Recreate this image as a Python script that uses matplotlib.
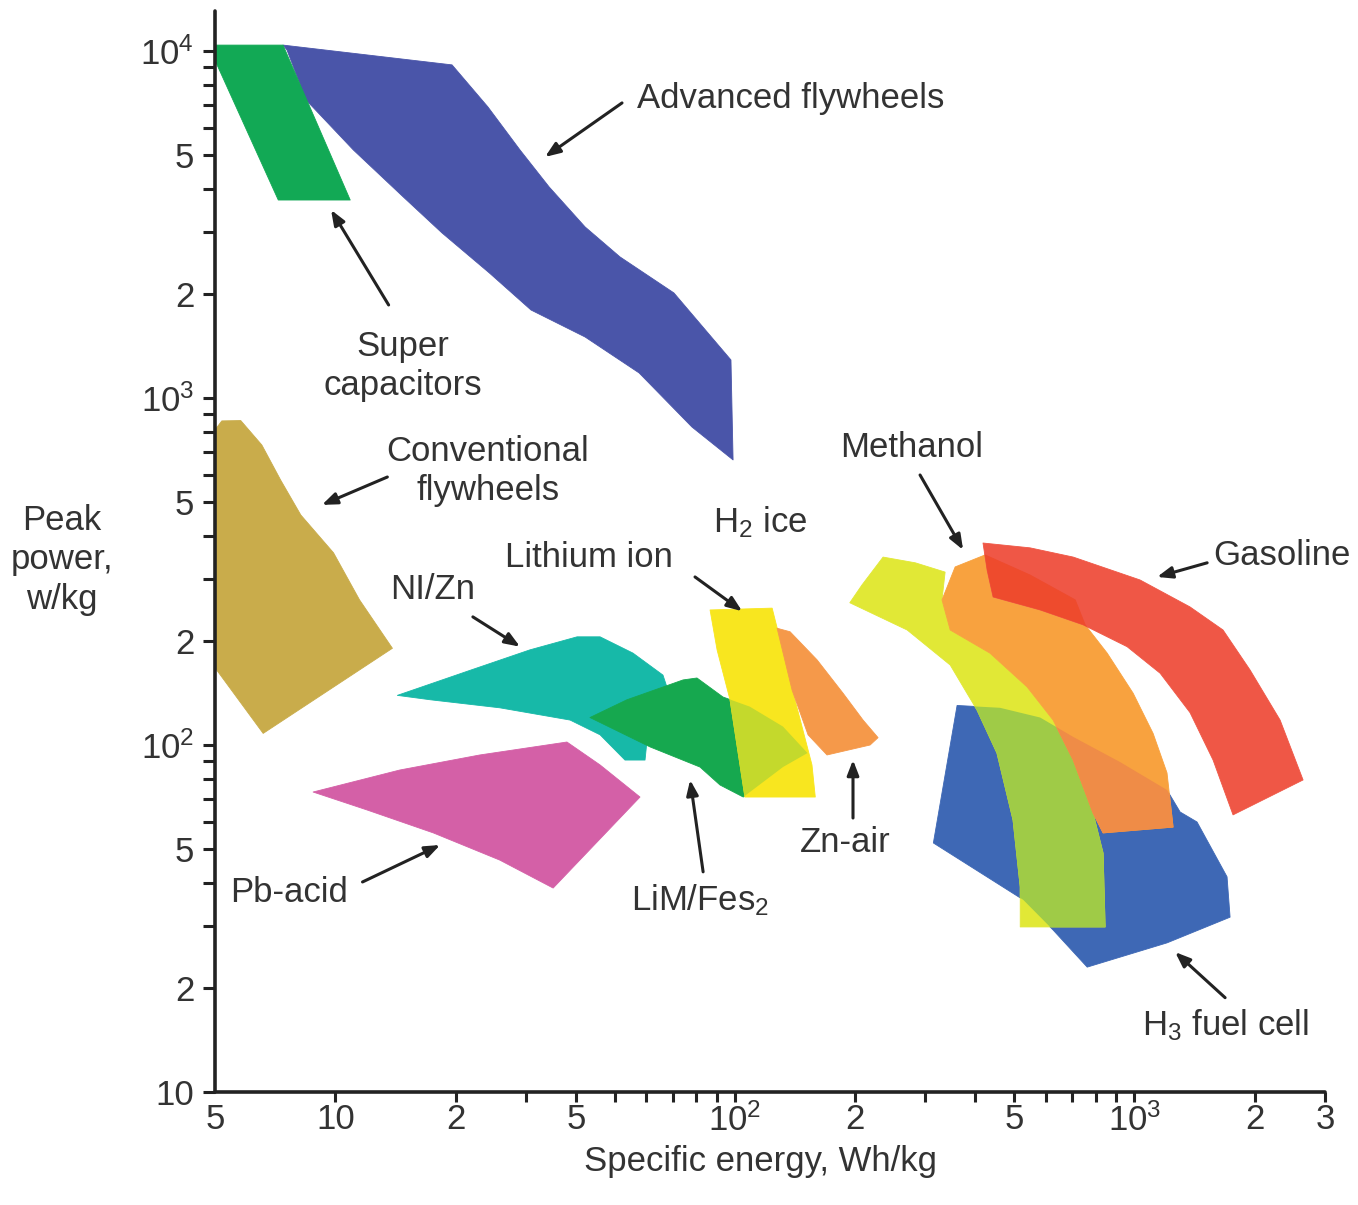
import numpy as np
import matplotlib
matplotlib.use("Agg")
import matplotlib.pyplot as plt
from matplotlib.patches import Polygon
from matplotlib.ticker import FixedLocator, FixedFormatter

plt.rcParams['font.family'] = ['Liberation Sans', 'DejaVu Sans']
plt.rcParams['mathtext.fontset'] = 'custom'
plt.rcParams['mathtext.rm'] = 'Liberation Sans'
plt.rcParams['mathtext.it'] = 'Liberation Sans'
plt.rcParams['mathtext.default'] = 'regular'

# ---------------- data (specific energy Wh/kg, peak power W/kg) ----------------
supercap_e = [5.0, 7.4, 10.9, 7.2, 5.0]
supercap_p = [10400, 10400, 3720, 3720, 9400]

advfly_e = [7.4, 19.6, 24.1, 29.0, 34.3, 42.2, 51.6, 70.4, 97.8, 99.0, 78.1, 57.6, 42.2,
            30.9, 24.3, 18.5, 14.8, 11.1, 8.45, 7.57]
advfly_p = [10400, 9120, 6900, 5185, 4057, 3111, 2550, 2008, 1287, 663, 825, 1181, 1499,
            1793, 2293, 2990, 3796, 5185, 7225, 10070]

convfly_e = [5.0, 5.2, 5.8, 6.55, 7.3, 8.2, 9.9, 11.5, 13.9, 6.6, 5.0]
convfly_p = [809, 859, 861, 732, 580, 460, 358, 262, 190, 108, 167]

nizn_e = [14.3, 21.7, 30.7, 40.3, 46.0, 55.6, 66.1, 68.0, 61.4, 59.6, 53.1, 46.0, 38.7, 25.8, 17.3]
nizn_p = [139, 164, 188, 205, 205, 184, 159, 144, 126, 90.5, 90.5, 107, 118, 128, 135]

pb_e = [8.8, 14.5, 23.0, 38.0, 46.0, 57.9, 35.1, 25.8, 17.6, 12.0]
pb_p = [73.2, 84.7, 93.6, 102, 87.6, 70.8, 38.7, 46.6, 55.8, 65.0]

limfes_e = [43.4, 53.7, 74.2, 80.4, 93.4, 109, 132, 152, 132, 105, 91.8, 81.8, 61.4]
limfes_p = [120, 135, 154, 156, 137.5, 129, 113, 94.8, 86.4, 70.8, 76.7, 86.4, 98.7]

liion_e = [86.7, 124, 128, 141.5, 156, 159, 106, 97.3, 90.3]
liion_p = [245, 248, 214.5, 134.8, 87.6, 70.8, 70.8, 134.8, 187.8]

znair_e = [127.6, 137.5, 160.6, 186.6, 209.4, 228.3, 218.1, 170.1, 152.5, 139.1]
znair_p = [217, 212, 176, 141, 118, 105, 100, 93.6, 107, 144]

h3fc_e = [360, 461, 581, 703, 921, 1207, 1302, 1435, 1706, 1736, 1207, 762, 626, 527, 314]
h3fc_p = [130, 128, 120, 105.5, 89.3, 74.2, 64.1, 60.0, 41.7, 31.9, 26.9, 22.9, 29.3, 35.8, 52.2]

h2ice_e = [194, 208, 235, 283, 336, 330, 346, 435, 539, 626, 703, 788, 835, 845, 518, 518,
           497, 453, 404, 381, 346, 270]
h2ice_p = [257, 289, 348, 335, 315, 262, 214.5, 184, 147, 118, 90.5, 63.7, 48.8, 29.9, 29.9,
           39, 60.8, 94.8, 126, 141, 170, 214.5]

methanol_e = [356, 423, 548, 711, 753, 855, 993, 1114, 1207, 1250, 835, 788, 703, 626, 539,
              435, 346, 330]
methanol_p = [326, 353, 309, 262, 222, 184, 141, 108, 83.1, 58.0, 55.8, 63.7, 90.5, 118, 147,
              184, 214.5, 262]

gasoline_e = [418, 548, 703, 1033, 1378, 1667, 1948, 2316, 2644, 1766, 1574, 1378, 1160, 959,
              744, 581, 443, 428]
gasoline_p = [382, 370, 348, 299, 250, 214.5, 164.5, 118, 79.3, 62.9, 90.5, 124, 161, 192,
              222, 245, 267, 319]

xtick_vals = [5, 10, 20, 40, 100, 200, 500, 1000, 2000, 3000]
xtick_text = ['5', '10', '2', '5', '$10^2$', '2', '5', '$10^3$', '2', '3']
xtick_minor = [30, 50, 60, 70, 80, 90, 300, 400, 600, 700, 800, 900]
ytick_vals = [10, 20, 50, 100, 200, 500, 1000, 2000, 5000, 10000]
ytick_text = ['10', '2', '5', '$10^2$', '2', '5', '$10^3$', '2', '5', '$10^4$']
ytick_minor = [30, 40, 60, 70, 80, 90, 300, 400, 600, 700, 800, 900,
               3000, 4000, 6000, 7000, 8000, 9000]

# (text, text_xy, arrow_tail, arrow_tip, ha)
labels = [
    ("Advanced flywheels", (56.9, 7320), (52.2, 7085), (33.5, 4951), 'left'),
    ("Super\ncapacitors", (14.8, 1237), (13.6, 1854), (9.76, 3483), 'center'),
    ("Conventional\nflywheels", (24.1, 616), (13.5, 592), (9.26, 492), 'center'),
    ("NI/Zn", (17.5, 280), (22.1, 234), (29.0, 192), 'center'),
    ("Lithium ion", (43.2, 346), (79.5, 305), (104.3, 243), 'center'),
    ("H$_2$ ice", (115.7, 439), None, None, 'center'),
    ("Methanol", (277.7, 718), (290.8, 600), (372.7, 365), 'center'),
    ("Gasoline", (1574, 351), (1521, 335), (1140, 305), 'left'),
    ("Pb-acid", (7.66, 37.7), (11.7, 40.3), (18.3, 51.5), 'center'),
    ("LiM/Fes$_2$", (81.8, 35.8), (83.3, 43.1), (77.3, 79.3), 'center'),
    ("Zn-air", (188.7, 52.2), (197.6, 61.6), (197.6, 90.5), 'center'),
    ("H$_3$ fuel cell", (1687, 15.6), (1687, 18.7), (1265, 25.3), 'center'),
]

# ---------------- figure ----------------
W, H = 1358, 1205
fig = plt.figure(figsize=(W / 100, H / 100), dpi=100)
ax = fig.add_axes([215 / W, 113 / H, 1110 / W, 1081 / H])
ax.set_xscale('log')
ax.set_yscale('log')
ax.set_xlim(5, 3000)
ax.set_ylim(10, 13040)

txt = '#333333'
axc = '#222222'


def poly(e, p, color, z, clip=None):
    patch = Polygon(np.column_stack([e, p]), closed=True, facecolor=color,
                    edgecolor=color, lw=0.6, zorder=z, joinstyle='round')
    ax.add_patch(patch)
    if clip is not None:
        patch.set_clip_path(clip)
    return patch


poly(advfly_e, advfly_p, '#4a55a9', 1)
poly(supercap_e, supercap_p, '#12a955', 2)
poly(convfly_e, convfly_p, '#c9ac4b', 1)
poly(nizn_e, nizn_p, '#17b9a8', 1)
poly(pb_e, pb_p, '#d460a7', 1)
g = poly(limfes_e, limfes_p, '#16a84f', 2)
poly(liion_e, liion_p, '#f8e61f', 3)
poly(liion_e, liion_p, '#c4d92c', 4, clip=g)
poly(znair_e, znair_p, '#f5994a', 5)

b = poly(h3fc_e, h3fc_p, '#3e68b5', 1)
poly(h2ice_e, h2ice_p, '#e1e836', 2)
poly(h2ice_e, h2ice_p, '#9fcb47', 3, clip=b)
m = poly(methanol_e, methanol_p, '#f8a23f', 4)
poly(methanol_e, methanol_p, '#ef8c47', 5, clip=b)
r = poly(gasoline_e, gasoline_p, '#ef5746', 6)
poly(methanol_e, methanol_p, '#ee4b2d', 7, clip=r)

# ---------------- axes styling ----------------
for s in ['top', 'right']:
    ax.spines[s].set_visible(False)
for s in ['left', 'bottom']:
    ax.spines[s].set_linewidth(2.6)
    ax.spines[s].set_color(axc)
    ax.spines[s].set_capstyle('round')

ax.xaxis.set_major_locator(FixedLocator(xtick_vals))
ax.xaxis.set_major_formatter(FixedFormatter(xtick_text))
ax.xaxis.set_minor_locator(FixedLocator(xtick_minor))
ax.yaxis.set_major_locator(FixedLocator(ytick_vals))
ax.yaxis.set_major_formatter(FixedFormatter(ytick_text))
ax.yaxis.set_minor_locator(FixedLocator(ytick_minor))
ax.xaxis.set_minor_formatter(FixedFormatter([''] * len(xtick_minor)))
ax.yaxis.set_minor_formatter(FixedFormatter([''] * len(ytick_minor)))

ax.tick_params(axis='x', which='both', direction='out', length=7, width=2.2,
               color=axc, labelsize=25, labelcolor=txt, pad=1)
ax.tick_params(axis='y', which='both', direction='out', length=9, width=2.2,
               color=axc, labelsize=25, labelcolor=txt, pad=6)
for t in ax.xaxis.get_major_ticks()[:1]:
    t.tick1line.set_visible(False)

# ---------------- labels & arrows ----------------
for text, xy, tail, tip, ha in labels:
    ax.text(xy[0], xy[1], text, ha=ha, va='center', fontsize=25, color=txt,
            linespacing=1.2, zorder=10)
    if tail is not None:
        ax.annotate('', xy=tip, xytext=tail,
                    arrowprops=dict(arrowstyle='-|>,head_length=0.9,head_width=0.35',
                                    lw=2.2, color='#222222', shrinkA=0, shrinkB=0),
                    zorder=10)

fig.text(62 / W, 1 - 560 / H, "Peak\npower,\nw/kg", ha='center', va='center',
         fontsize=25, color=txt, linespacing=1.25)
fig.text(760 / W, 1 - 1161 / H, "Specific energy, Wh/kg", ha='center', va='center',
         fontsize=25, color=txt)

fig.savefig('out.png', dpi=100, facecolor='white')
